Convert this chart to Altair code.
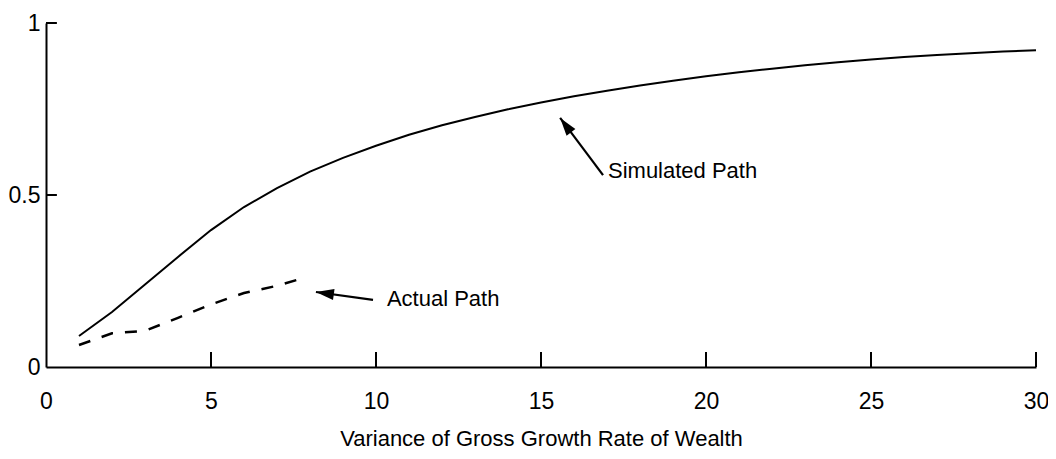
import altair as alt
import pandas as pd

# Simulated path (solid)
sim_x = list(range(1, 31))
sim_y = [0.090, 0.160, 0.240, 0.320, 0.398, 0.465, 0.520, 0.568, 0.608, 0.643,
         0.675, 0.703, 0.727, 0.749, 0.769, 0.787, 0.803, 0.818, 0.832, 0.845,
         0.857, 0.867, 0.877, 0.886, 0.894, 0.901, 0.907, 0.912, 0.917, 0.921]

# Actual path (dashed)
act_x = [1, 2, 3, 4, 5, 6, 7, 7.7]
act_y = [0.064, 0.098, 0.105, 0.143, 0.182, 0.215, 0.236, 0.256]

x_ticks = [0, 5, 10, 15, 20, 25, 30]
y_ticks = [0, 0.5, 1]

# annotations (data units)
ann_text = ["Simulated Path", "Actual Path"]
ann_tx = [17.03, 10.33]
ann_ty = [0.570, 0.199]
arrow_tail_x = [16.88, 9.91]
arrow_tail_y = [0.558, 0.195]
arrow_tip_x = [15.58, 8.18]
arrow_tip_y = [0.724, 0.218]
arrow_angle = [323, 278]

FONT = "Liberation Sans"
FS = 22
LFS = 23

xs = alt.Scale(domain=[0, 30], nice=False, zero=False)
ys = alt.Scale(domain=[0, 1], nice=False, zero=False)
xaxis = alt.Axis(values=x_ticks, title="Variance of Gross Growth Rate of Wealth",
                 ticks=False, grid=False, labelPadding=23, titlePadding=15,
                 labelFlush=False, format="d")
yaxis = alt.Axis(values=y_ticks, title=None, ticks=False, grid=False,
                 labelPadding=6, labelFlush=False, format="~g")

def X(f):
    return alt.X(f, type="quantitative", scale=xs, axis=xaxis)

def Y(f):
    return alt.Y(f, type="quantitative", scale=ys, axis=yaxis)

sim_df = pd.DataFrame({"x": sim_x, "y": sim_y})
act_df = pd.DataFrame({"x": act_x, "y": act_y})

sim = alt.Chart(sim_df).mark_line(color="black", strokeWidth=2).encode(x=X("x"), y=Y("y"))
act = alt.Chart(act_df).mark_line(color="black", strokeWidth=2.5, strokeDash=[12, 12]).encode(
    x=X("x"), y=Y("y"))

xt_df = pd.DataFrame({"x": x_ticks[1:], "y": [0] * 6, "y2": [0.0436] * 6})
xt = alt.Chart(xt_df).mark_rule(color="black", strokeWidth=2).encode(
    x=X("x"), y=Y("y"), y2="y2:Q")
yt_df = pd.DataFrame({"x": [0, 0], "x2": [0.33, 0.33], "y": y_ticks[1:]})
yt = alt.Chart(yt_df).mark_rule(color="black", strokeWidth=2).encode(
    x=X("x"), x2="x2:Q", y=Y("y"))

arr_df = pd.DataFrame({"x": arrow_tail_x, "y": arrow_tail_y,
                       "x2": arrow_tip_x, "y2": arrow_tip_y, "ang": arrow_angle})
shaft = alt.Chart(arr_df).mark_rule(color="black", strokeWidth=2.2).encode(
    x=X("x"), y=Y("y"), x2="x2:Q", y2="y2:Q")
head_df = pd.DataFrame({"x": arrow_tip_x, "y": arrow_tip_y, "ang": arrow_angle})
head = alt.Chart(head_df).mark_point(
    shape="M0,0L0.55,1.8L-0.55,1.8Z", filled=True, size=400, color="black", opacity=1,
    strokeWidth=0).encode(x=X("x"), y=Y("y"), angle=alt.Angle("ang:Q", scale=None))

txt_df = pd.DataFrame({"x": ann_tx, "y": ann_ty, "t": ann_text})
txt = alt.Chart(txt_df).mark_text(align="left", baseline="middle", font=FONT,
                                  fontSize=FS, color="black").encode(
    x=X("x"), y=Y("y"), text="t:N")

chart = alt.layer(sim, act, xt, yt, shaft, head, txt).properties(
    width=990, height=344,
    autosize=alt.AutoSizeParams(type="none"),
    padding={"left": 38, "top": 15, "right": 12, "bottom": 92},
    background="white",
).configure_view(stroke=None).configure_axis(
    domainColor="black", domainWidth=2, labelColor="black", titleColor="black",
    labelFont=FONT, titleFont=FONT, labelFontSize=LFS, titleFontSize=FS,
    titleFontWeight="normal",
)

chart.save("out.html", embed_options={"renderer": "svg", "actions": False})
